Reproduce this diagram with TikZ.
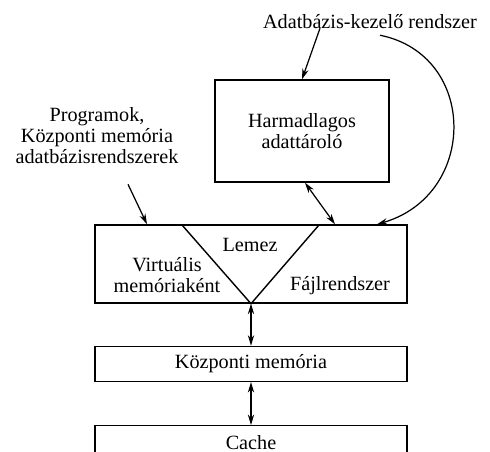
\documentclass[tikz,border=0pt]{standalone}
\usepackage{fontspec}
\setmainfont{Liberation Serif}
\usetikzlibrary{arrows.meta,positioning,calc}
\tikzset{>={Stealth[length=6pt,width=3.6pt]},txt/.style={font=\fontsize{11.5}{12}\selectfont,align=center,inner sep=1pt},box/.style={txt,draw,line width=0.8pt,minimum width=6.24cm},arr/.style={->,line width=0.7pt},darr/.style={<->,line width=0.7pt}}

\begin{document}
\begin{tikzpicture}[x=0.02cm,y=-0.02cm]
\clip (0,0) rectangle (490,452);
\node[box,minimum width=3.48cm,minimum height=2.04cm] (ter) at (302,131) {Harmadlagos\\adattároló};
\node[box,minimum height=1.56cm] (lemez) at (251,264) {};
\node[box,minimum height=0.7cm,below=0.84cm of lemez] (kozp) {Központi memória};
\node[box,minimum height=0.68cm,below=0.86cm of kozp] (cache) {Cache};
% inside the disk box
\draw[line width=0.8pt] (182,225) -- (lemez.south) -- (319,225);
\node[txt] (lem) at (250,245) {Lemez};
\node[txt] (virt) at (167,275) {Virtuális\\memóriaként};
\node[txt] (fajl) at (340,286) {Fájlrendszer};
% users
\node[txt] (dbms) at (370,22) {Adatbázis-kezelő rendszer};
\node[txt] (prog) at (97,136) {Programok,\\Központi memória\\adatbázisrendszerek};
\draw[arr] ($(dbms.south)+(-50,-3)$) -- (ter.north);
\draw[arr] ($(dbms.south)+(10,4)$) .. controls (478,55) and (478,195) .. ($(lemez.north)+(126,0)$);
\draw[arr] ($(prog.south)+(31,18)$) -- ($(lemez.north)+(-104,0)$);
\draw[darr] ($(ter.south)+(3,0)$) -- ($(lemez.north)+(84,0)$);
\draw[darr] (lemez.south) -- (kozp.north);
\draw[darr] (kozp.south) -- (cache.north);
\end{tikzpicture}
\end{document}
